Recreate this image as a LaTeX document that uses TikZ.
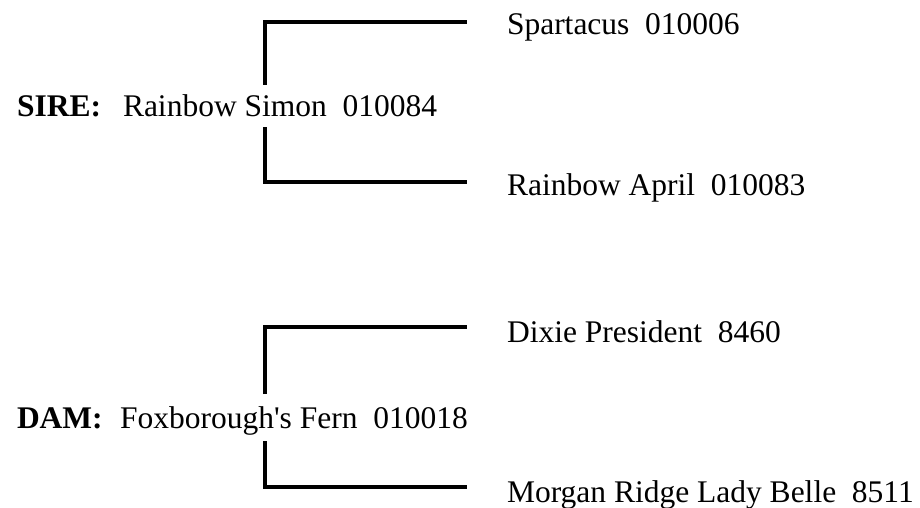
\documentclass[tikz,border=0pt]{standalone}
\usepackage{fontspec}
\setmainfont{Liberation Serif}
\usetikzlibrary{positioning}

\begin{document}
\begin{tikzpicture}[x=1pt,y=-1pt,line width=4pt,
    every node/.style={inner sep=0pt,anchor=base west,font=\fontsize{31.5}{36}\selectfont}]
    \useasboundingbox (0,0) rectangle (920,508);

    \node (sirelab) at (15,117) {\textbf{SIRE:}};
    \node (sire) at (121,117) {Rainbow Simon~~010084};
    \node (sire1) at (505,35) {Spartacus~~010006};
    \node (sire2) at (505,195) {Rainbow April~~010083};

    \node (damlab) at (15,428) {\textbf{DAM:}};
    \node (dam) at (118,428) {Foxborough\textquotesingle s Fern~~010018};
    \node (dam1) at (505,342) {Dixie President~~8460};
    \node (dam2) at (505,502) {Morgan Ridge Lady Belle~~8511};

    \coordinate (sa) at (265,85);
    \coordinate (sb) at (265,127);
    \coordinate (s1) at (467,22);
    \coordinate (s2) at (467,182);
    \draw (sa) |- (s1);
    \draw (sb) |- (s2);

    \coordinate (da) at (265,394);
    \coordinate (db) at (265,441);
    \coordinate (d1) at (467,327);
    \coordinate (d2) at (467,487);
    \draw (da) |- (d1);
    \draw (db) |- (d2);
\end{tikzpicture}
\end{document}
